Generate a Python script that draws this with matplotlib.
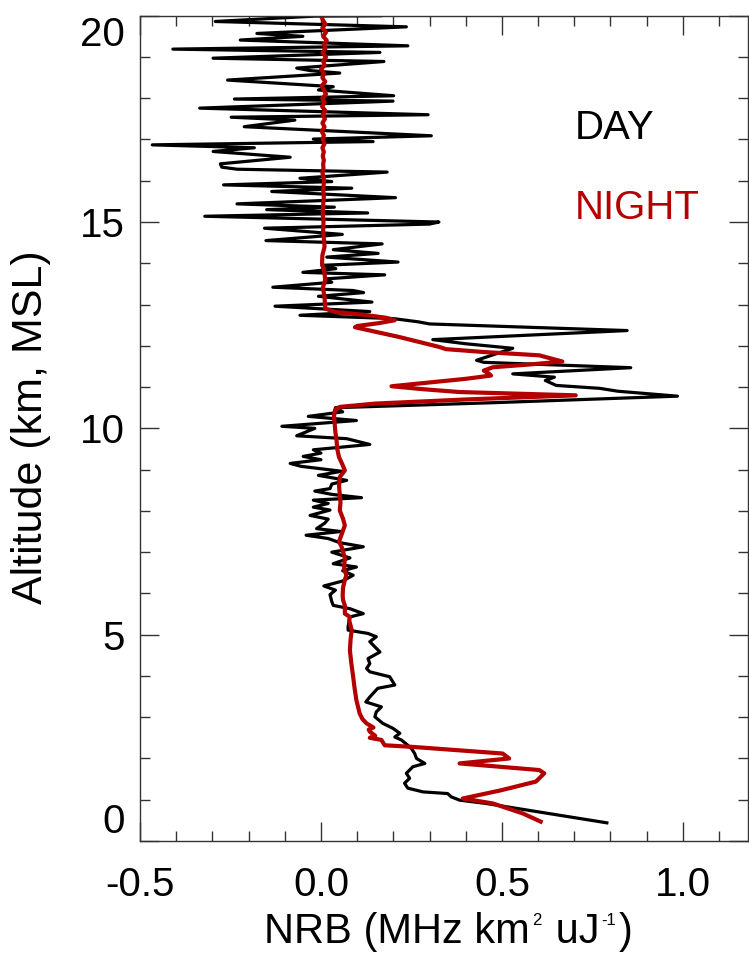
import numpy as np
import matplotlib
matplotlib.use('Agg')
from matplotlib import pyplot as plt
from matplotlib.transforms import IdentityTransform

plt.rcParams['font.family'] = ['Liberation Sans', 'DejaVu Sans']
plt.rcParams['axes.unicode_minus'] = False

# day profile: altitude (km) and NRB
day_alt = [20.00, 19.99, 19.86, 19.73, 19.57, 19.50, 19.41, 19.27, 19.19, 19.11,
           18.97, 18.89, 18.73, 18.67, 18.61, 18.44, 18.28, 18.20, 18.06, 17.98,
           17.93, 17.76, 17.60, 17.54, 17.47, 17.31, 17.25, 17.09, 17.01, 16.95,
           16.87, 16.80, 16.71, 16.57, 16.41, 16.33, 16.28, 16.21, 16.06, 15.98,
           15.90, 15.82, 15.74, 15.59, 15.44, 15.36, 15.30, 15.22, 15.14, 15.00,
           14.95, 14.85, 14.70, 14.55, 14.47, 14.33, 14.24, 14.15, 14.03, 13.95,
           13.87, 13.78, 13.72, 13.62, 13.54, 13.42, 13.34, 13.29, 13.20, 13.06,
           12.96, 12.83, 12.74, 12.66, 12.58, 12.53, 12.37, 12.15, 12.05, 11.94,
           11.65, 11.60, 11.47, 11.32, 11.24, 11.16, 11.04, 10.97, 10.90, 10.78,
           10.62, 10.50, 10.40, 10.29, 10.19, 10.05, 10.00, 9.87, 9.82, 9.75,
           9.61, 9.48, 9.40, 9.32, 9.24, 9.15, 9.08, 8.96, 8.86, 8.74,
           8.65, 8.54, 8.48, 8.40, 8.32, 8.26, 8.18, 8.09, 8.02, 7.89,
           7.80, 7.70, 7.57, 7.50, 7.41, 7.33, 7.23, 7.13, 7.00, 6.86,
           6.72, 6.64, 6.55, 6.44, 6.30, 6.18, 6.08, 5.97, 5.80, 5.71,
           5.63, 5.51, 5.43, 5.20, 5.11, 5.03, 4.95, 4.83, 4.58, 4.42,
           4.30, 4.18, 4.10, 3.98, 3.78, 3.70, 3.49, 3.37, 3.25, 3.13,
           3.01, 2.85, 2.73, 2.61, 2.52, 2.45, 2.32, 2.24, 2.12, 2.00,
           1.88, 1.80, 1.64, 1.52, 1.40, 1.28, 1.19, 1.15, 1.07, 0.99,
           0.91, 0.44]
day_nrb = [0.165, -0.017, -0.292, 0.236, -0.177, -0.05, -0.223, 0.240, -0.409, 0.163,
           -0.298, 0.174, -0.067, -0.03, 0.052, -0.258, 0.034, -0.007, 0.201, -0.239,
           0.199, -0.335, 0.296, -0.248, -0.072, -0.212, -0.072, 0.305, -0.021, 0.144,
           -0.466, -0.184, -0.298, -0.085, -0.278, -0.274, -0.232, 0.183, -0.058, 0.030,
           -0.269, 0.085, -0.136, 0.206, -0.232, 0.037, -0.150, 0.129, -0.321, 0.326,
           0.300, -0.156, 0.059, -0.152, 0.169, 0.034, 0.158, 0.016, 0.213, 0.002,
           0.041, -0.050, 0.176, 0.010, 0.030, -0.133, 0.089, 0.118, -0.007, 0.141,
           -0.127, 0.135, -0.058, 0.200, 0.270, 0.300, 0.846, 0.309, 0.400, 0.530,
           0.430, 0.450, 0.856, 0.530, 0.645, 0.620, 0.650, 0.770, 0.820, 0.985,
           0.470, 0.040, 0.060, -0.035, 0.098, -0.108, -0.017, -0.053, -0.067, 0.071,
           0.135, -0.021, 0.000, -0.049, 0.000, -0.085, -0.055, 0.057, -0.007, 0.071,
           0.030, 0.025, -0.017, 0.030, 0.112, -0.021, 0.020, -0.021, 0.025, -0.030,
           0.020, 0.010, -0.012, 0.055, -0.041, 0.020, 0.052, 0.117, 0.030, 0.080,
           0.034, 0.098, 0.060, 0.089, 0.060, 0.008, 0.040, 0.025, 0.030, 0.034,
           0.080, 0.117, 0.080, 0.075, 0.075, 0.130, 0.153, 0.135, 0.163, 0.130,
           0.135, 0.126, 0.135, 0.190, 0.204, 0.157, 0.135, 0.124, 0.167, 0.153,
           0.149, 0.171, 0.199, 0.218, 0.204, 0.222, 0.240, 0.250, 0.259, 0.264,
           0.287, 0.254, 0.236, 0.245, 0.231, 0.240, 0.282, 0.350, 0.360, 0.383,
           0.456, 0.790]

# night profile
night_alt = [20.00, 19.90, 19.80, 19.70, 19.60, 19.50, 19.40, 19.30, 19.20, 19.10,
             19.00, 18.90, 18.80, 18.70, 18.60, 18.50, 18.40, 18.30, 18.20, 18.10,
             18.00, 17.90, 17.80, 17.70, 17.60, 17.50, 17.40, 17.30, 17.20, 17.10,
             17.00, 16.90, 16.80, 16.70, 16.60, 16.50, 16.40, 16.30, 16.20, 16.00,
             15.80, 15.60, 15.40, 15.20, 15.00, 14.80, 14.60, 14.40, 14.20, 14.00,
             13.80, 13.60, 13.40, 13.20, 13.00, 12.90, 12.82, 12.75, 12.68, 12.62,
             12.55, 12.48, 12.45, 12.40, 12.21, 11.97, 11.92, 11.85, 11.77, 11.62,
             11.55, 11.48, 11.40, 11.32, 11.28, 11.20, 11.02, 10.95, 10.88, 10.85,
             10.80, 10.70, 10.60, 10.52, 10.45, 10.30, 10.10, 9.90, 9.71, 9.50,
             9.30, 9.15, 8.98, 8.82, 8.60, 8.40, 8.20, 8.01, 7.81, 7.65,
             7.45, 7.26, 7.13, 6.86, 6.60, 6.44, 6.32, 6.14, 5.95, 5.84,
             5.71, 5.51, 5.43, 5.35, 5.11, 4.90, 4.62, 4.30, 3.98, 3.70,
             3.41, 3.09, 2.95, 2.85, 2.75, 2.70, 2.65, 2.55, 2.50, 2.45,
             2.32, 2.28, 2.12, 2.00, 1.88, 1.72, 1.64, 1.44, 1.23, 1.03,
             0.91, 0.67, 0.47]
night_nrb = [0.000, 0.005, 0.012, 0.004, 0.014, 0.006, 0.016, 0.008, 0.012, 0.004,
             0.014, 0.006, 0.010, 0.000, 0.008, 0.004, 0.012, 0.002, 0.008, 0.014,
             0.004, 0.010, 0.003, 0.012, 0.005, 0.011, 0.004, 0.010, 0.002, 0.008,
             0.005, 0.010, 0.004, 0.008, 0.005, 0.008, 0.006, 0.007, 0.004, 0.009,
             0.006, 0.008, 0.006, 0.005, 0.007, 0.006, 0.008, 0.010, 0.004, 0.003,
             0.009, 0.012, 0.005, 0.010, 0.011, 0.012, 0.040, 0.120, 0.180, 0.204,
             0.160, 0.100, 0.094, 0.120, 0.218, 0.328, 0.345, 0.450, 0.603, 0.667,
             0.580, 0.475, 0.450, 0.465, 0.470, 0.400, 0.195, 0.280, 0.383, 0.500,
             0.704, 0.400, 0.150, 0.052, 0.039, 0.036, 0.038, 0.040, 0.043, 0.045,
             0.050, 0.058, 0.066, 0.052, 0.050, 0.052, 0.054, 0.052, 0.061, 0.066,
             0.058, 0.050, 0.057, 0.066, 0.064, 0.070, 0.066, 0.061, 0.060, 0.061,
             0.066, 0.066, 0.080, 0.078, 0.085, 0.082, 0.080, 0.084, 0.089, 0.093,
             0.098, 0.107, 0.115, 0.126, 0.145, 0.132, 0.135, 0.150, 0.135, 0.167,
             0.176, 0.254, 0.502, 0.520, 0.383, 0.603, 0.617, 0.594, 0.498, 0.392,
             0.475, 0.557, 0.607]

xticks = [-0.5, 0.0, 0.5, 1.0]
xtick_labels = ['-0.5', '0.0', '0.5', '1.0']
yticks = [0, 5, 10, 15, 20]
ytick_labels = ['0', '5', '10', '15', '20']

red = '#b40000'
axis_col = '#333333'

fig = plt.figure(figsize=(7.49, 9.56), dpi=100)
ax = fig.add_axes([140/749, 1 - 841/956, 608/749, (841 - 15.7)/956])

ax.plot(day_nrb, day_alt, color='black', lw=2.3)
ax.plot(night_nrb, night_alt, color=red, lw=3.0)

ax.set_xlim(-0.5, 1.18)
ax.set_ylim(0, 20)

ax.set_xticks(xticks)
ax.set_xticklabels(xtick_labels)
ax.set_xticks(np.arange(-0.5, 1.15, 0.1), minor=True)
ax.set_yticks(yticks)
ylabels = ax.set_yticklabels(ytick_labels)
# end labels sit inside the axis range, like the original
ylabels[0].set_va('bottom')
ylabels[-1].set_va('top')
ax.set_yticks(np.arange(0, 20.1, 1), minor=True)

ax.tick_params(which='both', direction='in', top=True, right=True,
               color=axis_col, width=1.0, labelsize=29)
ax.tick_params(which='major', length=14)
ax.tick_params(which='minor', length=7)
ax.tick_params(axis='x', pad=18)
ax.tick_params(axis='y', pad=11)
for s in ax.spines.values():
    s.set_color(axis_col)
    s.set_linewidth(1.0)

ax.set_ylabel('Altitude (km, MSL)', fontsize=31, va='center')
ax.yaxis.set_label_coords(-0.179, 0.502)

# x label with small raised exponents, built piece by piece (pixel coords)
renderer = fig.canvas.get_renderer()
x = 264
base = 956 - 943
pieces = [('NRB (MHz km', 30, 0, 2), ('2', 12, 18, 3), (' uJ', 30, 0, 2),
          ('-1', 12, 18, 2), (')', 30, 0, 0)]
for s, size, dy, gap in pieces:
    t = fig.text(x, base + dy, s, fontsize=size, va='baseline', ha='left',
                 transform=IdentityTransform())
    x = t.get_window_extent(renderer).x1 + gap

ax.text(0.70, 17.29, 'DAY', fontsize=29, color='black', va='center', ha='left')
ax.text(0.70, 15.35, 'NIGHT', fontsize=29, color=red, va='center', ha='left')

fig.savefig('out.png', dpi=100)
